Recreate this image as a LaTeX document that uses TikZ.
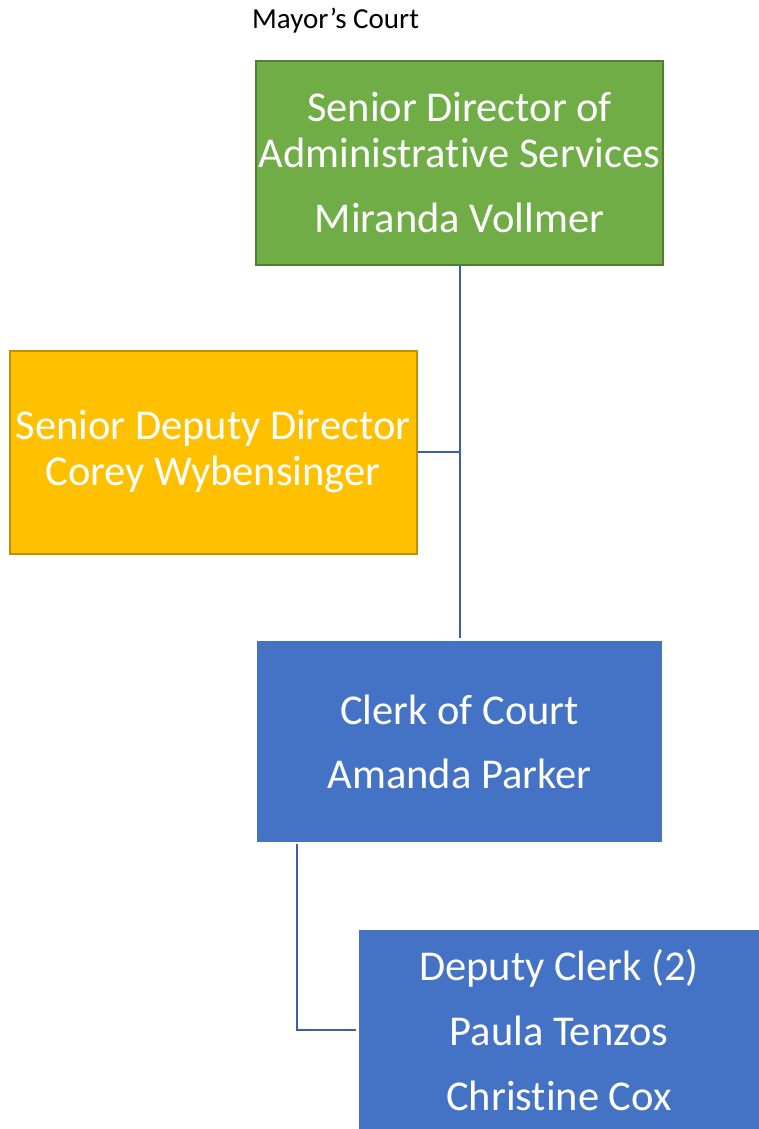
\documentclass[tikz,border=0pt]{standalone}
\usepackage{fontspec}
\setmainfont{Carlito}[RawFeature=-liga]
\definecolor{greenfill}{HTML}{70AD47}
\definecolor{greenline}{HTML}{507E32}
\definecolor{yellowfill}{HTML}{FFC000}
\definecolor{yellowline}{HTML}{BF9000}
\definecolor{bluefill}{HTML}{4472C4}
\definecolor{connline}{HTML}{3C5DA8}
\tikzset{
  orgbox/.style={inner sep=0pt, align=center, text=white,
    font=\fontsize{42.5}{46}\selectfont},
  conn/.style={draw=connline, line width=2pt}
}
\begin{document}
\begin{tikzpicture}[x=1pt,y=-1pt]
\useasboundingbox (0,0) rectangle (759,1129);
\node[anchor=base west, font=\fontsize{29}{34}\selectfont, inner sep=0pt] (title) at (252,29) {Mayor’s Court};
\node[orgbox, fill=greenfill, draw=greenline, line width=2pt,
      minimum width=407pt, minimum height=203pt] (green) at (459.5,163)
  {Senior Director of\\Administrative Services\\[19pt]Miranda Vollmer};
\node[orgbox, fill=yellowfill, draw=yellowline, line width=2pt,
      minimum width=407pt, minimum height=203pt] (yellow) at (213,452)
  {Senior Deputy Director\\Corey Wybensinger};
\node[orgbox, fill=bluefill, minimum width=405pt, minimum height=201pt] (clerk) at (459.5,741.5)
  {Clerk of Court\\[18pt]Amanda Parker};
\node[orgbox, fill=bluefill, minimum width=400pt, minimum height=200pt] (deputy) at (559,1030)
  {Deputy Clerk (2)\\[19pt]Paula Tenzos\\[19pt]Christine Cox};
\draw[conn] (green.south) -- ([yshift=3pt]clerk.north);
\draw[conn] (yellow.east) -- (yellow.east -| green.south);
\draw[conn] ([xshift=40pt,yshift=-2pt]clerk.south west) |- ([xshift=-3pt]deputy.west);
\end{tikzpicture}
\end{document}
